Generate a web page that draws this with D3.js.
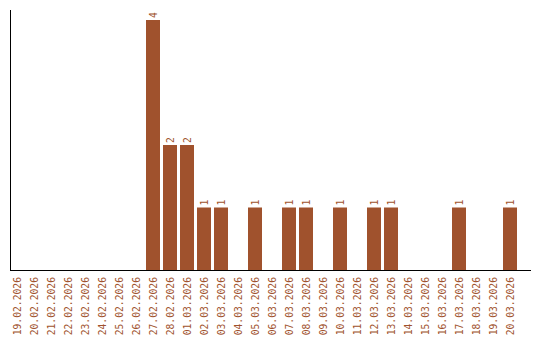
<!DOCTYPE html>
<html>
<head>
<meta charset="utf-8">
<script src="https://cdn.jsdelivr.net/npm/d3@7"></script>
<style>
  body { margin: 0; background: #fff; }
  text { font-family: "DejaVu Sans Mono", monospace; font-size: 9.7px; fill: #a0522d; }
</style>
</head>
<body>
<div class="chart"></div>
<script>
// chart dimensions
var svgWidth = 540;
var svgHeight = 340;

// categories and values
var dates = [
  "19.02.2026", "20.02.2026", "21.02.2026", "22.02.2026", "23.02.2026",
  "24.02.2026", "25.02.2026", "26.02.2026", "27.02.2026", "28.02.2026",
  "01.03.2026", "02.03.2026", "03.03.2026", "04.03.2026", "05.03.2026",
  "06.03.2026", "07.03.2026", "08.03.2026", "09.03.2026", "10.03.2026",
  "11.03.2026", "12.03.2026", "13.03.2026", "14.03.2026", "15.03.2026",
  "16.03.2026", "17.03.2026", "18.03.2026", "19.03.2026", "20.03.2026"
];
var counts = [0, 0, 0, 0, 0, 0, 0, 0, 4, 2, 2, 1, 1, 0, 1, 0, 1, 1, 0, 1, 0, 1, 1, 0, 0, 0, 1, 0, 0, 1];
var yDomain = [0, 4];

var barColor = "#a0522d";

var svg = d3.select(".chart")
  .append("svg")
  .attr("width", svgWidth)
  .attr("height", svgHeight);

// scales
var x = d3.scaleBand()
  .domain(dates)
  .range([10, 517])
  .paddingInner(3 / 17)
  .paddingOuter(0);

var y = d3.scaleLinear()
  .domain(yDomain)
  .range([270, 20]);

var data = dates.map(function(d, i) { return { date: d, value: counts[i] }; });

// bars
svg.append("g")
  .selectAll("rect")
  .data(data.filter(d => d.value > 0))
  .enter()
  .append("rect")
  .attr("x", d => x(d.date))
  .attr("y", d => y(d.value))
  .attr("width", x.bandwidth())
  .attr("height", d => y(0) - y(d.value))
  .attr("fill", barColor);

// value labels
svg.append("g")
  .selectAll("text")
  .data(data.filter(d => d.value > 0))
  .enter()
  .append("text")
  .attr("transform", d => `translate(${x(d.date) + x.bandwidth() / 2 + 3.5}, ${y(d.value) - 2}) rotate(-90)`)
  .attr("text-anchor", "start")
  .text(d => d.value);

// x axis labels
svg.append("g")
  .selectAll("text")
  .data(dates)
  .enter()
  .append("text")
  .attr("transform", d => `translate(${x(d) + x.bandwidth() / 2 + 3.5}, 277) rotate(-90)`)
  .attr("text-anchor", "end")
  .text(d => d);

// axis lines
svg.append("line")
  .attr("x1", 10.5).attr("x2", 10.5)
  .attr("y1", 10).attr("y2", 270.5)
  .attr("stroke", "#000");

svg.append("line")
  .attr("x1", 10).attr("x2", 531)
  .attr("y1", 270.5).attr("y2", 270.5)
  .attr("stroke", "#000");
</script>
</body>
</html>
